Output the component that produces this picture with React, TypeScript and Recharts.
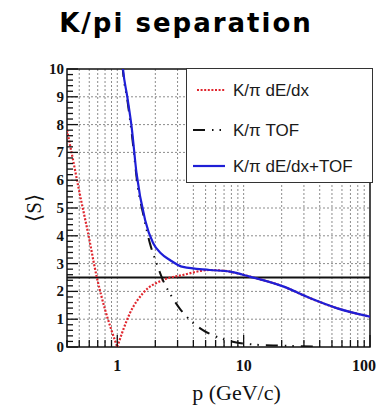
import {
  LineChart,
  Line,
  XAxis,
  YAxis,
  CartesianGrid,
  ReferenceLine,
  ReferenceArea,
  Label,
} from 'recharts'

// axis ticks
const momentumTicks = [
  0.4, 0.5, 0.6, 0.7, 0.8, 0.9, 1, 2, 3, 4, 5, 6, 7, 8, 9, 10, 20, 30, 40, 50, 60, 70, 80, 90, 100,
]
const decadeLabels = [1, 10, 100]
const separationTicks = Array.from({ length: 51 }, (_, i) => i / 5)
const separationGrid = [1, 2, 3, 4, 5, 6, 7, 8, 9]
const threshold = 2.5

// K/pi dE/dx, below the crossing at p = 1
const dedxLowP = [0.4, 0.45, 0.5, 0.587, 0.687, 0.8, 0.9, 1.0]
const dedxLowS = [7.8, 6.65, 5.6, 4.1, 2.53, 1.35, 0.6, 0]

// K/pi dE/dx, above the crossing
const dedxHighP = [1.0, 1.1, 1.26, 1.6, 2.3, 3.3, 5.4, 7.8, 11.2, 20.5, 33.4, 54.4, 100]
const dedxHighS = [0, 0.55, 1.22, 1.94, 2.41, 2.59, 2.77, 2.71, 2.53, 2.18, 1.76, 1.4, 1.09]

// K/pi TOF
const tofP = [1.05, 1.11, 1.2, 1.3, 1.46, 1.6, 1.82, 2.05, 2.3, 2.7, 3.1, 3.76, 4.76, 6.1, 8.2, 11.9, 19.4, 28, 38]
const tofS = [11.4, 9.9, 8.9, 7.7, 5.7, 4.8, 3.7, 3.0, 2.4, 1.81, 1.4, 0.97, 0.61, 0.37, 0.19, 0.09, 0.05, 0.03, 0.02]

// K/pi dE/dx+TOF
const combP = [1.05, 1.11, 1.2, 1.3, 1.42, 1.66, 1.92, 2.2, 2.61, 3.31, 5.4, 7.8, 11.2, 20.5, 33.4, 54.4, 100]
const combS = [11.5, 10, 9.0, 7.9, 6.25, 4.57, 3.74, 3.38, 3.13, 2.88, 2.77, 2.71, 2.53, 2.18, 1.76, 1.4, 1.09]

const toRows = (ps: number[], ss: number[]) => ps.map((p, i) => ({ p, s: ss[i] }))

const RED = '#e0262e'
const BLUE = '#1f1fd6'
const INK = '#111'
const SERIF = "'Liberation Serif', 'Times New Roman', serif"
const SANS = "'Liberation Sans', Arial, sans-serif"

function MomentumTick({ x, y, payload }: any) {
  const v = payload.value
  const major = decadeLabels.includes(v)
  // last label sits on the right edge, keep it inside the picture
  const last = v === decadeLabels[decadeLabels.length - 1]
  return (
    <g>
      <line x1={x} x2={x} y1={y} y2={y - (major ? 12 : 7)} stroke={INK} strokeWidth={1.3} />
      {major && (
        <text
          x={last ? x + 6 : x}
          y={y + 24}
          textAnchor={last ? 'end' : 'middle'}
          fontFamily={SERIF}
          fontWeight="bold"
          fontSize={16}
          fill={INK}
        >
          {v}
        </text>
      )}
    </g>
  )
}

function SeparationTick({ x, y, payload, side }: any) {
  const v = payload.value
  const major = Math.abs(v - Math.round(v)) < 1e-6
  const len = major ? 11 : 6
  const dir = side === 'left' ? 1 : -1
  return (
    <g>
      <line x1={x} x2={x + dir * len} y1={y} y2={y} stroke={INK} strokeWidth={1.3} />
      {side === 'left' && major && (
        <text x={x - 3} y={y + 5} textAnchor="end" fontFamily={SERIF} fontWeight="bold" fontSize={15} fill={INK}>
          {Math.round(v)}
        </text>
      )}
    </g>
  )
}

function LegendBox() {
  const rows = [
    { label: 'K/π dE/dx', y: 22, sample: <line x1={11} x2={39} y1={0} y2={0} stroke={RED} strokeWidth={2} strokeDasharray="2 1.6" /> },
    {
      label: 'K/π TOF',
      y: 62,
      sample: <line x1={7} x2={36} y1={0} y2={0} stroke={INK} strokeWidth={2} strokeDasharray="12 7 1.5 6 1.5 20" />,
    },
    { label: 'K/π dE/dx+TOF', y: 98, sample: <line x1={7} x2={39} y1={0} y2={0} stroke={BLUE} strokeWidth={2.2} /> },
  ]
  return (
    <div
      style={{
        position: 'absolute',
        left: 186,
        top: 68,
        width: 187,
        height: 115,
        boxSizing: 'border-box',
        border: '1.5px solid #333',
        background: '#fff',
      }}
    >
      <svg width={185} height={112} style={{ position: 'absolute', left: -1, top: -1 }}>
        {rows.map((r) => (
          <g key={r.label} transform={`translate(0, ${r.y})`}>
            {r.sample}
            <text x={47} y={6} fontFamily={SANS} fontSize={17} fill="#1a1a1a">
              {r.label}
            </text>
          </g>
        ))}
      </svg>
    </div>
  )
}

export default function App() {
  return (
    <div style={{ position: 'absolute', left: 0, top: 0, width: 377, height: 409, background: '#fff' }}>
      <div
        style={{
          position: 'absolute',
          left: 0,
          top: 10,
          width: 372,
          textAlign: 'center',
          fontFamily: "'DejaVu Sans', Verdana, sans-serif",
          fontWeight: 'bold',
          fontSize: 26,
          lineHeight: '26px',
          letterSpacing: 2,
          color: '#000',
        }}
      >
        K/pi separation
      </div>
      <div style={{ position: 'absolute', left: 0, top: 0 }}>
        <LineChart width={377} height={409} margin={{ top: 69, right: 7, bottom: 0, left: 0 }}>
          <CartesianGrid
            yAxisId="left"
            stroke="#8c8c8c"
            strokeDasharray="2 2"
            horizontalValues={separationGrid}
            verticalValues={momentumTicks.slice(1, -1)}
          />
          <XAxis
            dataKey="p"
            type="number"
            scale="log"
            domain={[0.4, 100]}
            allowDataOverflow
            ticks={momentumTicks}
            interval={0}
            height={62}
            axisLine={false}
            tickLine={false}
            tickSize={0}
            tickMargin={0}
            tick={<MomentumTick />}
          >
            <Label value="p (GeV/c)" position="insideBottom" offset={9} dx={18} fontFamily={SERIF} fontSize={22} fill={INK} />
          </XAxis>
          <YAxis
            yAxisId="left"
            type="number"
            domain={[0, 10]}
            allowDataOverflow
            ticks={separationTicks}
            interval={0}
            width={67}
            axisLine={false}
            tickLine={false}
            tickSize={0}
            tickMargin={0}
            tick={<SeparationTick side="left" />}
          >
            <Label value="⟨S⟩" position="center" angle={-90} fontFamily={SERIF} fontSize={21} fill={INK} />
          </YAxis>
          <YAxis
            yAxisId="right"
            orientation="right"
            type="number"
            domain={[0, 10]}
            allowDataOverflow
            ticks={separationTicks}
            interval={0}
            width={0}
            axisLine={false}
            tickLine={false}
            tickSize={0}
            tickMargin={0}
            tick={<SeparationTick side="right" />}
          />
          <ReferenceLine yAxisId="left" y={threshold} stroke={INK} strokeWidth={2} />
          <Line
            yAxisId="left"
            data={toRows(dedxLowP, dedxLowS)}
            dataKey="s"
            type="monotone"
            stroke={RED}
            strokeWidth={2.2}
            strokeDasharray="2 1.6"
            dot={false}
            isAnimationActive={false}
          />
          <Line
            yAxisId="left"
            data={toRows(dedxHighP, dedxHighS)}
            dataKey="s"
            type="monotone"
            stroke={RED}
            strokeWidth={2.2}
            strokeDasharray="2 1.6"
            dot={false}
            isAnimationActive={false}
          />
          <Line
            yAxisId="left"
            data={toRows(tofP, tofS)}
            dataKey="s"
            type="monotone"
            stroke={INK}
            strokeWidth={2}
            strokeDasharray="12 7 1.5 6 1.5 7"
            dot={false}
            isAnimationActive={false}
          />
          <Line
            yAxisId="left"
            data={toRows(combP, combS)}
            dataKey="s"
            type="monotone"
            stroke={BLUE}
            strokeWidth={2.2}
            dot={false}
            isAnimationActive={false}
          />
          <ReferenceArea
            yAxisId="left"
            x1={0.4}
            x2={100}
            y1={0}
            y2={10}
            fill="none"
            fillOpacity={0}
            stroke={INK}
            strokeWidth={1.5}
            ifOverflow="visible"
          />
        </LineChart>
      </div>
      <LegendBox />
    </div>
  )
}
